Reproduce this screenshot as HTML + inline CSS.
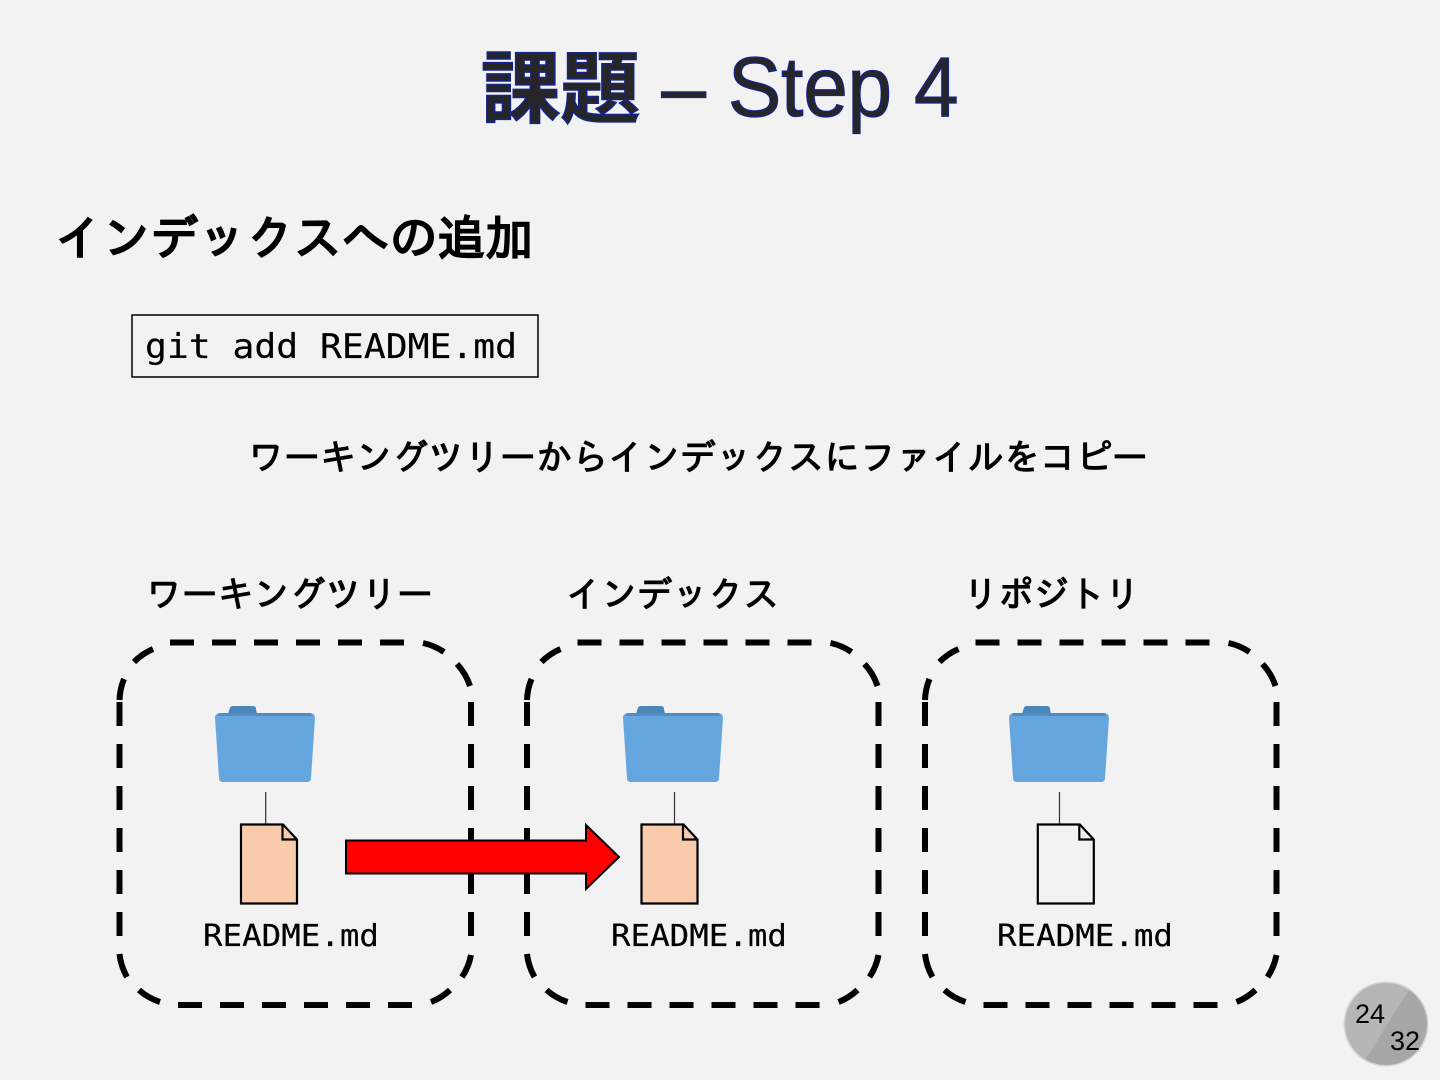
<!DOCTYPE html>
<html lang="ja"><head><meta charset="utf-8"><style>
html,body{margin:0;padding:0;background:#f2f2f2}
svg{display:block}
.j{font-family:"IPAGothic","Liberation Sans","Noto Sans CJK JP",sans-serif;fill:#000;stroke:#000;stroke-width:1.100}
.m{font-family:"DejaVu Sans Mono","Liberation Mono",monospace;fill:#000;stroke:#000;stroke-width:.2}
</style></head><body>
<svg width="1440" height="1080" viewBox="0 0 1440 1080" xmlns="http://www.w3.org/2000/svg">
<defs>
<clipPath id="cc"><circle cx="1386" cy="1024" r="41"/></clipPath>
<g id="folder">
<path d="M13 8 L15 1.500 Q16 0 18 0 H38 Q41 0 41 3 L42 8 Z" fill="#4a86b8"/>
<path d="M4 7 H96 Q100 8 100 12 L96 72 Q96 76 92 76 H8 Q4 76 4 72 L0 12 Q0 8 4 7 Z" fill="#66a6de"/>
<path d="M3 10 Q3 7 6 7 H94 Q97 7 97 10 Z" fill="#4f8cc0"/>
</g>
<path id="doc" d="M0 0 H42 L56 15 V79 H0 Z" stroke="#000" stroke-width="2.200" stroke-linejoin="miter"/>
<path id="fold" d="M41.500 0 V15 H56" fill="none" stroke="#000" stroke-width="2.200"/>
<g id="box" fill="none" stroke="#000" stroke-width="6">
<g stroke-dasharray="24 18">
<path d="M119.500 702 V936"/>
<path d="M471 702 V936"/>
<path d="M170 642.500 H404"/>
<path d="M178 1005 H412"/>
</g>
<path d="M119.500 700 A60 60 0 0 1 124 679"/><path d="M134 662 A60 60 0 0 1 153 649"/>
<path d="M423 643 A60 60 0 0 1 444 652"/><path d="M457 664 A60 60 0 0 1 470 686"/>
<path d="M119.500 954 A60 60 0 0 0 127 977"/><path d="M139 990 A60 60 0 0 0 160 1002"/>
<path d="M431 1002 A60 60 0 0 0 450 990"/><path d="M462 977 A60 60 0 0 0 471 955"/>
</g>
</defs>
<rect width="1440" height="1080" fill="#f2f2f2"/>

<text x="481" y="116" font-size="78" font-weight="bold" style="font-family:'Liberation Sans','Noto Sans CJK JP',sans-serif;fill:#262626;stroke:#14248c;stroke-width:1.500" textLength="159" lengthAdjust="spacingAndGlyphs">課題</text>
<text x="661.500" y="116" font-size="84" style="font-family:'Liberation Sans',sans-serif;fill:#262626;stroke:#14248c;stroke-width:1.300" textLength="297" lengthAdjust="spacingAndGlyphs">– Step 4</text>

<text x="55" y="255" font-size="48" class="j" style="stroke-width:2" textLength="478" lengthAdjust="spacingAndGlyphs">インデックスへの追加</text>

<rect x="132" y="315" width="406" height="62" fill="none" stroke="#000" stroke-width="1.500"/>
<text x="145" y="358" font-size="34" class="m" textLength="372" lengthAdjust="spacingAndGlyphs">git add README.md</text>

<text x="248" y="470" font-size="36" class="j" textLength="900" lengthAdjust="spacingAndGlyphs">ワーキングツリーからインデックスにファイルをコピー</text>

<text x="146" y="607" font-size="36" class="j" textLength="287" lengthAdjust="spacingAndGlyphs">ワーキングツリー</text>
<text x="566" y="607" font-size="36" class="j" textLength="213" lengthAdjust="spacingAndGlyphs">インデックス</text>
<text x="963" y="607" font-size="36" class="j" textLength="177" lengthAdjust="spacingAndGlyphs">リポジトリ</text>

<use href="#box"/>
<use href="#box" x="407.500"/>
<use href="#box" x="805.500"/>

<use href="#folder" x="215" y="706"/>
<use href="#folder" x="623" y="706"/>
<use href="#folder" x="1009" y="706"/>
<g stroke="#333" stroke-width="1.200">
<line x1="265.700" y1="792" x2="265.700" y2="824"/>
<line x1="674.500" y1="792" x2="674.500" y2="824"/>
<line x1="1059.500" y1="792" x2="1059.500" y2="824"/>
</g>

<g transform="translate(241,824.500)"><use href="#doc" fill="#f8cbad"/><use href="#fold"/></g>
<g transform="translate(641.500,824.500)"><use href="#doc" fill="#f8cbad"/><use href="#fold"/></g>
<g transform="translate(1037.800,824.500)"><use href="#doc" fill="#f2f2f2"/><use href="#fold"/></g>

<text x="203" y="946" font-size="30" class="m" textLength="176" lengthAdjust="spacingAndGlyphs">README.md</text>
<text x="611" y="946" font-size="30" class="m" textLength="176" lengthAdjust="spacingAndGlyphs">README.md</text>
<text x="997" y="946" font-size="30" class="m" textLength="176" lengthAdjust="spacingAndGlyphs">README.md</text>

<path d="M346 840.500 H586 V825 L619 857 L586 889 V873.500 H346 Z" fill="#f00" stroke="#000" stroke-width="2"/>

<circle cx="1386" cy="1024" r="42.500" fill="#d4d4d4"/>
<g clip-path="url(#cc)">
<rect x="1340" y="980" width="92" height="92" fill="#b6b6b6"/>
<path d="M1412 985 L1362 1065 H1432 V985 Z" fill="#a7a7a7"/>
</g>
<text x="1355" y="1023" font-size="27" font-family="Liberation Sans, sans-serif">24</text>
<text x="1390" y="1050" font-size="27" font-family="Liberation Sans, sans-serif">32</text>
</svg>
</body></html>
